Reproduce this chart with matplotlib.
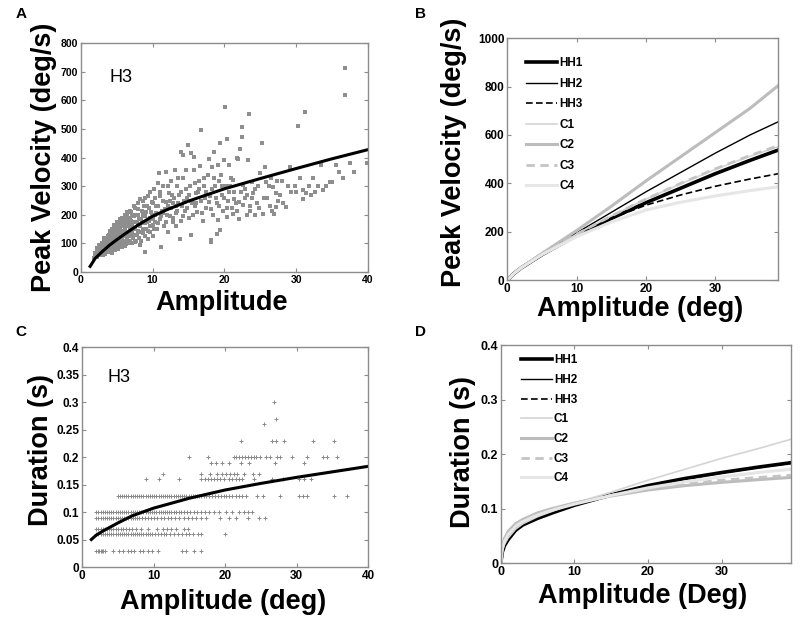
import numpy as np
import matplotlib
matplotlib.use("Agg")
import matplotlib.pyplot as plt

plt.rcParams['font.family'] = ['Liberation Sans', 'DejaVu Sans']

# ---------------- Panel A data (H3 peak velocity vs amplitude) ----------------
a_pts = [(1.8,48),(2.0,55),(2.1,62),(2.2,70),(2.3,58),(2.4,78),(2.5,66),(2.5,85),(2.6,72),(2.7,60),
 (2.8,90),(2.9,75),(3.0,68),(3.0,98),(3.1,82),(3.2,105),(3.2,72),(3.3,90),(3.4,64),(3.4,112),(3.5,80),
 (3.5,95),(3.6,120),(3.7,70),(3.7,102),(3.8,88),(3.9,130),(4.0,75),(4.0,110),(4.1,95),(4.1,140),(4.2,82),
 (4.3,118),(4.3,68),(4.4,100),(4.5,135),(4.5,88),(4.6,150),(4.7,110),(4.7,78),(4.8,125),(4.9,95),(5.0,160),
 (5.0,140),(5.0,85),(5.1,115),(5.2,102),(5.3,170),(5.3,130),(5.4,90),(5.5,150),(5.5,120),(5.6,180),(5.7,105),
 (5.7,140),(5.8,95),(5.9,165),(6.0,125),(6.0,190),(6.1,110),(6.2,150),(6.3,175),(6.3,98),(6.4,135),(6.5,200),
 (6.5,118),(6.6,160),(6.7,105),(6.8,185),(6.9,140),(7.0,210),(7.0,125),(7.1,170),(7.2,100),(7.3,150),(7.4,195),
 (7.5,130),(7.6,225),(7.7,110),(7.8,175),(7.9,145),(8.0,240),(8.0,200),(8.1,120),(8.2,160),(8.3,95),(8.4,185),
 (8.5,215),(8.6,135),(8.7,250),(8.8,170),(8.9,70),(9.0,195),(9.1,150),(9.2,230),(9.3,115),(9.4,265),(9.5,180),
 (9.6,140),(9.8,210),(9.9,245),(10.0,165),(10.1,125),(10.2,290),(10.3,200),(10.5,230),(10.6,150),(10.8,310),
 (10.9,345),(11.0,185),(11.1,265),(11.2,88),(11.3,215),(11.5,300),(11.6,160),(11.8,245),(11.9,350),(12.0,200),
 (12.1,140),(12.3,275),(12.5,225),(12.6,320),(12.8,175),(13.0,260),(13.1,356),(13.2,205),(13.4,300),(13.6,240),
 (13.8,117),(13.9,180),(14.0,421),(14.0,280),(14.2,409),(14.3,330),(14.5,215),(14.7,356),(14.8,260),(14.9,444),
 (15.0,190),(15.2,300),(15.4,415),(15.4,129),(15.5,240),(15.7,403),(15.8,356),(16.0,275),(16.2,210),(16.4,320),
 (16.6,371),(16.7,497),(16.8,250),(17.0,180),(17.2,300),(17.5,225),(17.7,340),(17.9,397),(18.0,265),(18.1,105),
 (18.2,111),(18.3,368),(18.4,200),(18.6,421),(18.7,300),(18.9,134),(19.0,240),(19.1,374),(19.1,181),(19.3,320),
 (19.4,146),(19.4,450),(19.6,270),(19.8,215),(20.0,391),(20.1,578),(20.2,300),(20.3,193),(20.4,464),(20.5,250),
 (20.7,374),(20.9,330),(21.1,225),(21.2,321),(21.2,204),(21.4,280),(21.7,398),(21.9,397),(22.0,245),(22.1,187),
 (22.2,430),(22.4,508),(22.4,473),(22.6,304),(22.8,260),(23.1,199),(23.3,393),(23.4,552),(23.5,230),(23.8,315),
 (24.0,275),(24.2,199),(24.5,240),(24.9,345),(25.2,450),(25.4,204),(25.6,368),(25.8,315),(26.0,260),(26.3,230),
 (26.8,298),(26.9,204),(27.2,275),(27.2,228),(27.5,250),(28.0,320),(28.6,228),(29.1,368),(29.3,281),(30.3,510),
 (30.5,330),(31.0,287),(31.0,257),(31.2,558),(31.4,278),(32.1,269),(32.3,329),(33.5,374),(33.7,287),(34.7,315),
 (35.0,315),(35.6,374),(36.8,712),(36.8,619),(39.9,383),
 (9.0,170),(9.7,190),(10.4,175),(11.4,205),(12.4,250),(12.9,190),(13.3,230),(14.4,250),(15.1,270),(15.9,230),
 (16.5,290),(17.3,260),(18.5,330),(19.7,300),(20.6,280),(21.6,240),(22.9,290),(23.9,260),(24.7,300),(26.5,330),
 (27.8,270),(29.8,300),(33.0,300),(36.0,350),(37.5,380),
 (2.0,65),(2.2,52),(2.3,85),(2.4,62),(2.6,95),(2.7,80),(2.8,66),(2.9,100),(3.0,85),(3.1,60),(3.2,118),(3.3,78),
 (3.4,98),(3.5,70),(3.6,108),(3.6,85),(3.8,125),(3.8,75),(3.9,100),(4.0,145),(4.0,90),(4.1,120),(4.2,105),
 (4.2,70),(4.3,150),(4.4,128),(4.4,85),(4.5,112),(4.6,95),(4.6,165),(4.7,140),(4.8,80),(4.8,105),(4.9,155),
 (4.9,125),(5.0,100),(5.1,175),(5.1,135),(5.2,80),(5.2,150),(5.3,110),(5.4,185),(5.4,125),(5.5,98),(5.6,160),
 (5.6,135),(5.7,88),(5.8,190),(5.8,120),(5.9,145),(6.0,105),(6.0,170),(6.1,200),(6.1,135),(6.2,92),(6.2,180),
 (6.3,125),(6.4,160),(6.4,210),(6.5,140),(6.6,100),(6.6,190),(6.7,170),(6.7,130),(6.8,150),(6.9,215),(6.9,110),
 (7.0,180),(7.1,140),(7.2,200),(7.2,160),(7.3,120),(7.4,230),(7.5,175),(7.5,105),(7.6,150),(7.7,200),(7.8,130),
 (7.9,220),(8.0,165),(8.1,185),(8.2,140),(8.3,255),(8.4,110),(8.5,175),(8.6,200),(8.7,150),(8.8,230),(8.9,125),
 (9.0,260),(9.1,210),(9.2,175),(9.3,145),(9.5,225),(9.6,280),(9.7,160),(9.9,200),(10.0,240),(10.1,185),
 (10.2,150),(10.4,260),(10.5,205),(10.7,170),(10.8,230),(11.0,280),(11.2,195),(11.4,250),(11.7,220),(11.9,175),
 (12.1,300),(12.2,230),(12.4,195),(12.7,270),(12.9,240),(13.2,160),(13.4,215),(13.5,330),(13.7,270),(14.1,230),
 (14.2,195),(14.6,290),(14.8,225),(15.3,250),(15.6,200),(15.9,310),(16.1,240),(16.3,280),(16.9,205),(17.1,330),
 (17.4,280),(17.8,245),(18.1,220),(18.3,290),(18.8,260),(19.2,230),(19.5,340),(20.0,260),(20.3,225),(20.8,300),
 (21.3,255),(21.8,215),(22.3,280),(22.6,235),(23.2,270),(23.6,215),(24.3,290),(24.8,225),(25.5,260),(26.2,300),
 (26.6,215),(27.3,320),(28.2,240),(28.8,300),(30.0,280),(31.8,300),(32.6,280),(34.1,300),(36.5,330),(38.0,350)]
a_x = [p[0] for p in a_pts]
a_y = [p[1] for p in a_pts]
a_fit_x = [1.3, 2, 3, 4, 5, 6, 8, 10, 12, 15, 18, 20, 25, 30, 35, 40]
a_fit_y = [20, 48, 72, 94, 113, 131, 165, 195, 218, 248, 274, 291, 327, 362, 396, 428]

# ---------------- Panel B data (fitted peak velocity curves) ----------------
b_x = [0, 1, 2, 5, 10, 15, 20, 25, 30, 35, 39.1]
b_HH1 = [0, 28, 50, 105, 185, 255, 320, 380, 440, 495, 538]
b_HH2 = [0, 28, 50, 108, 195, 280, 365, 445, 525, 600, 655]
b_HH3 = [0, 28, 50, 105, 185, 255, 310, 352, 388, 418, 440]
b_C1 = [0, 28, 50, 105, 190, 265, 335, 398, 458, 512, 552]
b_C2 = [0, 28, 52, 110, 205, 305, 410, 510, 610, 710, 805]
b_C3 = [0, 28, 50, 106, 190, 265, 335, 400, 460, 515, 556]
b_C4 = [0, 28, 50, 105, 180, 240, 290, 322, 348, 370, 386]

# ---------------- Panel C data (H3 duration vs amplitude) ----------------
c_levels = {
 0.03: [2.0,2.2,2.4,2.6,2.8,3.0,3.2,4.4,5.2,5.7,6.4,6.9,7.3,8.1,8.6,9.3,9.8,10.6,14.0,14.5,15.7,16.6],
 0.06: [2.0,2.3,2.6,2.9,3.2,3.5,3.8,4.1,4.4,4.7,5.0,5.3,5.6,5.9,6.2,6.5,6.8,7.1,7.4,7.7,8.0,8.3,8.6,8.9,
        9.2,9.5,9.8,10.2,10.6,11.0,11.4,11.8,12.3,12.8,13.4,14.0,14.6,15.0,15.5,16.2,16.7,20.0],
 0.07: [2.0,2.3,2.6,2.9,3.2,3.5,3.8,4.1,4.4,4.7,5.0,5.4,5.8,6.2,6.6,7.0,7.6,8.3,9.2,10.5,11.3,11.9,12.4,
        13.1,14.2,14.8],
 0.09: [2.0,2.3,2.6,2.9,3.2,3.5,3.8,4.1,4.4,4.7,5.0,5.3,5.6,5.9,6.2,6.5,6.8,7.1,7.4,7.7,8.0,8.4,8.8,9.2,
        9.6,10.0,10.5,11.0,11.5,12.0,12.5,13.0,13.6,14.2,14.8,15.4,16.0,16.7,17.3,19.3,20.5,21.5,23.2,24.8,25.6],
 0.10: [2.0,2.3,2.6,2.9,3.2,3.5,3.8,4.1,4.4,4.7,5.0,5.3,5.6,5.9,6.2,6.5,6.8,7.1,7.4,7.7,8.0,8.3,8.6,8.9,
        9.2,9.5,9.8,10.1,10.4,10.7,11.0,11.3,11.6,11.9,12.2,12.5,12.8,13.1,13.5,13.9,14.3,14.7,15.1,15.6,
        16.1,16.6,17.2,17.8,18.4,19.2,20.1,21.0,21.9,22.6,23.2,23.8],
 0.13: [5.0,5.3,5.6,5.9,6.2,6.5,6.8,7.1,7.4,7.7,8.0,8.3,8.6,8.9,9.2,9.5,9.8,10.1,10.4,10.7,11.0,11.3,11.6,
        11.9,12.2,12.5,12.8,13.1,13.4,13.7,14.0,14.3,14.6,14.9,15.2,15.5,15.8,16.1,16.4,16.7,17.0,17.4,17.8,
        18.2,18.6,19.0,19.4,19.8,20.2,20.6,21.0,21.5,22.0,22.4,22.9,24.5,25.3,27.7,30.4,30.9,31.4,35.3,37.0],
 0.16: [9.0,10.8,13.5,16.7,17.2,17.6,18.0,18.5,18.9,19.3,19.8,20.6,21.0,21.5,22.0,22.4,24.0,26.6,28.1,30.4,
        31.0,32.0],
 0.17: [11.3,16.6,17.9,18.9,19.6,20.2,20.7,21.2,21.7,22.6,23.9,24.7],
 0.19: [18.1,18.7,19.6,20.6,22.2,23.3,27.0,31.0],
 0.20: [15.0,17.6,21.2,21.6,22.0,22.4,22.8,23.2,23.6,24.0,24.4,24.9,25.7,26.3,27.3,27.7,29.4,31.5,33.7,34.3,
        35.6,40.0],
 0.23: [22.3,26.6,27.2,28.3,32.3,35.3],
 0.26: [25.4],
 0.27: [27.2],
 0.30: [26.9],
}
c_fit_x = [1.3, 2, 3, 5, 7, 10, 15, 20, 25, 30, 35, 40]
c_fit_y = [0.050, 0.058, 0.066, 0.080, 0.093, 0.107, 0.125, 0.140, 0.152, 0.163, 0.173, 0.183]

# ---------------- Panel D data (fitted duration curves) ----------------
d_x = [0, 0.2, 0.5, 1, 2, 3, 5, 7, 10, 15, 20, 25, 30, 35, 39.4]
d_HH1 = [0, 0.020, 0.032, 0.043, 0.060, 0.070, 0.082, 0.092, 0.106, 0.125, 0.142, 0.155, 0.166, 0.176, 0.184]
d_HH2 = [0, 0.022, 0.035, 0.047, 0.063, 0.073, 0.086, 0.095, 0.108, 0.126, 0.142, 0.155, 0.166, 0.176, 0.184]
d_HH3 = [0, 0.021, 0.034, 0.045, 0.062, 0.072, 0.084, 0.094, 0.107, 0.125, 0.141, 0.154, 0.165, 0.175, 0.183]
d_C1 = [0, 0.022, 0.034, 0.046, 0.062, 0.072, 0.085, 0.095, 0.110, 0.130, 0.152, 0.172, 0.192, 0.210, 0.227]
d_C2 = [0, 0.030, 0.045, 0.058, 0.072, 0.080, 0.092, 0.100, 0.110, 0.123, 0.134, 0.142, 0.148, 0.153, 0.157]
d_C3 = [0, 0.028, 0.042, 0.055, 0.070, 0.079, 0.090, 0.099, 0.110, 0.124, 0.136, 0.145, 0.152, 0.157, 0.161]
d_C4 = [0, 0.025, 0.040, 0.052, 0.067, 0.076, 0.088, 0.097, 0.108, 0.124, 0.138, 0.149, 0.158, 0.166, 0.172]

series_names = ['HH1', 'HH2', 'HH3', 'C1', 'C2', 'C3', 'C4']
styles = [
    dict(color='black', lw=2.6, ls='-'),
    dict(color='black', lw=1.0, ls='-'),
    dict(color='black', lw=1.2, ls=(0, (4, 2))),
    dict(color='#d4d4d4', lw=1.2, ls='-'),
    dict(color='#bcbcbc', lw=2.2, ls='-'),
    dict(color='#c4c4c4', lw=2.0, ls=(0, (3, 2))),
    dict(color='#e6e6e6', lw=2.2, ls='-'),
]

fig = plt.figure(figsize=(8, 6.17), dpi=100)

def style_axes(ax, tick_fs):
    for s in ax.spines.values():
        s.set_color('#8c8c8c')
        s.set_linewidth(1.0)
    ax.tick_params(direction='in', length=3, width=0.8, color='#8c8c8c',
                   top=True, right=True, labelsize=tick_fs, pad=2)
    for lab in ax.get_xticklabels() + ax.get_yticklabels():
        lab.set_fontweight('bold')

lab_kw = dict(fontsize=19.5, fontweight='bold')

# Panel A
axA = fig.add_axes([0.101, 0.559, 0.359, 0.371])
axA.plot(a_x, a_y, ls='none', marker='s', ms=2.7, mew=0, color='#8e8e8e')
axA.plot(a_fit_x, a_fit_y, color='black', lw=2.2)
axA.set_xlim(0, 40); axA.set_ylim(0, 800)
axA.set_xticks([0, 10, 20, 30, 40]); axA.set_yticks(range(0, 801, 100))
axA.text(4.0, 680, 'H3', fontsize=13, va='center', ha='left')
style_axes(axA, 7.5)
axA.set_xlabel('Amplitude', **lab_kw)
axA.set_ylabel('Peak Velocity (deg/s)', **lab_kw)
axA.xaxis.set_label_coords(0.49, -0.08)
axA.yaxis.set_label_coords(-0.083, 0.5)

# Panel B
axB = fig.add_axes([0.634, 0.546, 0.339, 0.392])
for name, yv, st in zip(series_names, [b_HH1, b_HH2, b_HH3, b_C1, b_C2, b_C3, b_C4], styles):
    axB.plot(b_x, yv, label=name, **st)
axB.set_xlim(0, 39.1); axB.set_ylim(0, 1000)
axB.set_xticks([0, 10, 20, 30]); axB.set_yticks(range(0, 1001, 200))
style_axes(axB, 8.5)
axB.set_xlabel('Amplitude (deg)', **lab_kw)
axB.set_ylabel('Peak Velocity (deg/s)', **lab_kw)
axB.xaxis.set_label_coords(0.49, -0.065)
axB.yaxis.set_label_coords(-0.149, 0.53)
axB.legend(loc='upper left', bbox_to_anchor=(0.045, 0.95), frameon=False,
           prop=dict(weight='bold', size=8.5), handlelength=2.6, labelspacing=0.72,
           handletextpad=0.2, borderaxespad=0.2)

# Panel C
axC = fig.add_axes([0.1025, 0.081, 0.3575, 0.3566])
cx, cy = [], []
for lev, xs in c_levels.items():
    cx += xs; cy += [lev] * len(xs)
axC.plot(cx, cy, ls='none', marker='+', ms=3, mew=0.7, color='#8a8a8a')
axC.plot(c_fit_x, c_fit_y, color='black', lw=2.2)
axC.set_xlim(0, 40); axC.set_ylim(0, 0.4)
axC.set_xticks([0, 10, 20, 30, 40])
axC.set_yticks([0, 0.05, 0.1, 0.15, 0.2, 0.25, 0.3, 0.35, 0.4])
axC.set_yticklabels(['0', '0.05', '0.1', '0.15', '0.2', '0.25', '0.3', '0.35', '0.4'])
axC.text(3.5, 0.344, 'H3', fontsize=13, va='center', ha='left')
style_axes(axC, 8.5)
axC.set_xlabel('Amplitude (deg)', **lab_kw)
axC.set_ylabel('Duration (s)', **lab_kw)
axC.xaxis.set_label_coords(0.495, -0.10)
axC.yaxis.set_label_coords(-0.099, 0.53)

# Panel D
axD = fig.add_axes([0.626, 0.0875, 0.3625, 0.3533])
for name, yv, st in zip(series_names, [d_HH1, d_HH2, d_HH3, d_C1, d_C2, d_C3, d_C4], styles):
    axD.plot(d_x, yv, label=name, **st)
axD.set_xlim(0, 39.4); axD.set_ylim(0, 0.4)
axD.set_xticks([0, 10, 20, 30]); axD.set_yticks([0, 0.1, 0.2, 0.3, 0.4])
axD.set_yticklabels(['0', '0.1', '0.2', '0.3', '0.4'])
style_axes(axD, 9)
axD.set_xlabel('Amplitude (Deg)', **lab_kw)
axD.set_ylabel('Duration (s)', **lab_kw)
axD.xaxis.set_label_coords(0.49, -0.09)
axD.yaxis.set_label_coords(-0.086, 0.51)
axD.legend(loc='upper left', bbox_to_anchor=(0.045, 0.99), frameon=False,
           prop=dict(weight='bold', size=8.5), handlelength=2.6, labelspacing=0.65,
           handletextpad=0.2, borderaxespad=0.2)

# Panel letters
for txt, x, y in [('A', 0.019, 0.978), ('B', 0.519, 0.978), ('C', 0.019, 0.462), ('D', 0.519, 0.462)]:
    fig.text(x, y, txt, fontsize=11, fontweight='bold', ha='left', va='center')

fig.savefig('out.png', dpi=100, facecolor='white')
